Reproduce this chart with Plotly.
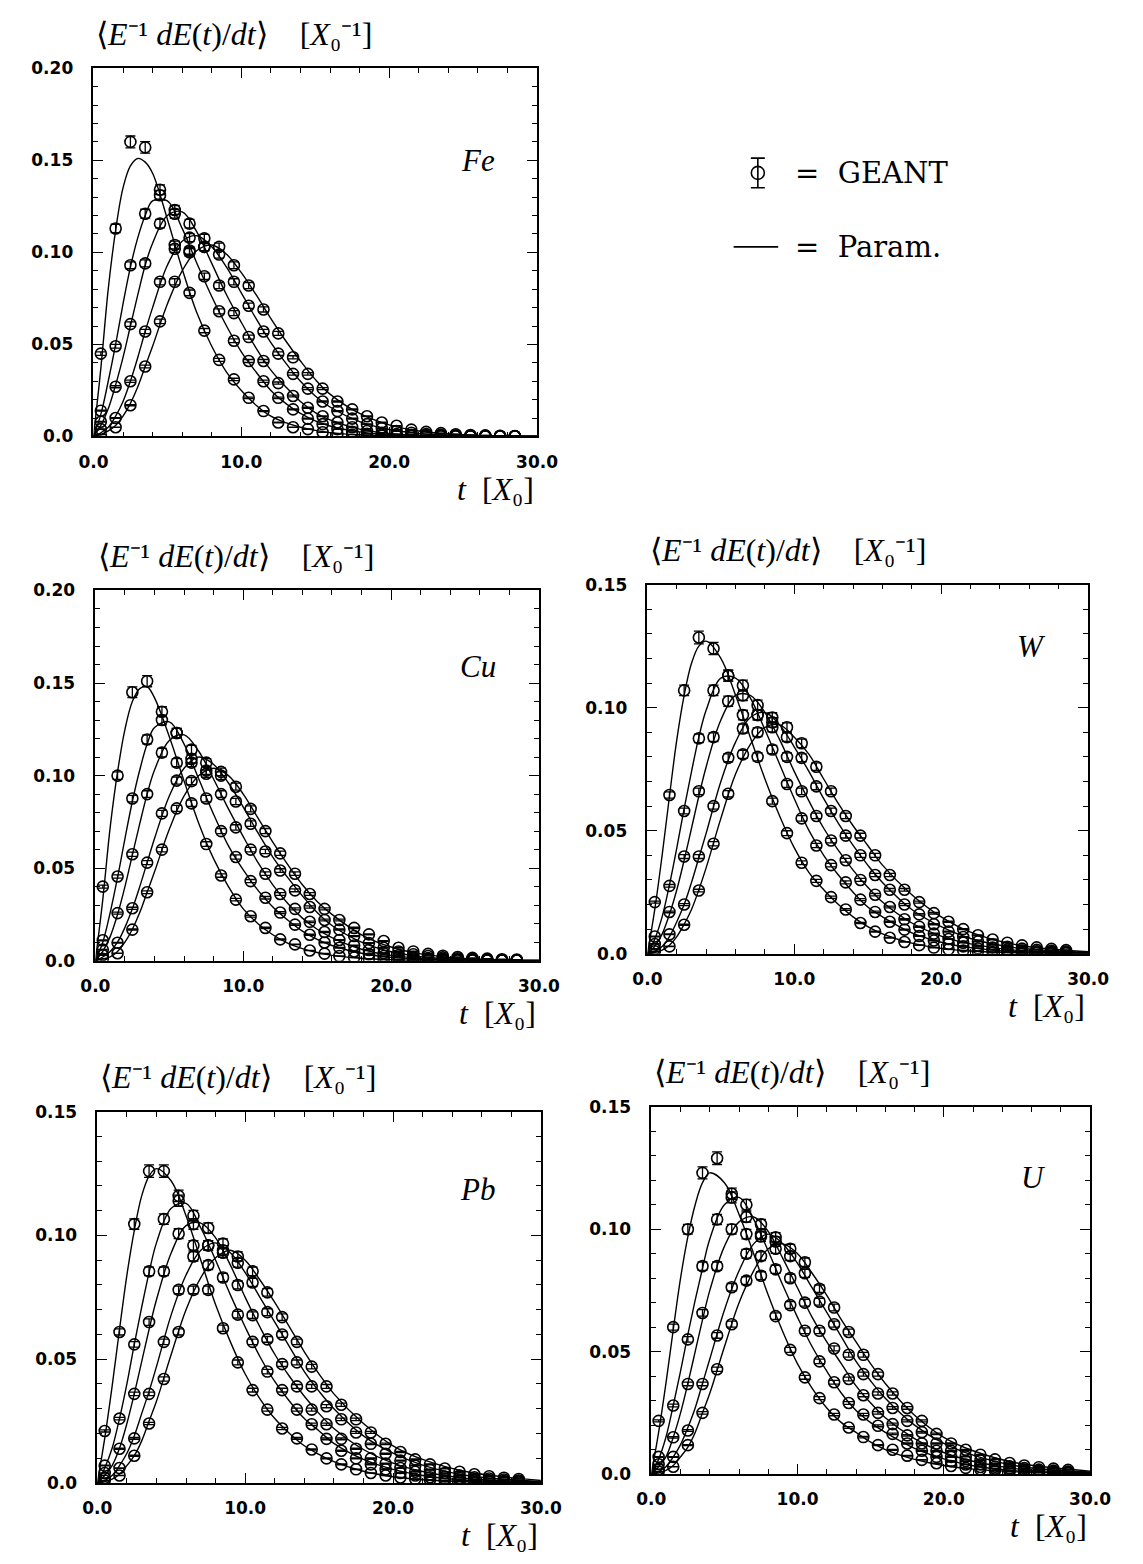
import plotly.graph_objects as go

PAGE_W, PAGE_H = 1143, 1564

# depth bins (centres, in X0) of the GEANT histograms
T_BINS = [0.5, 1.5, 2.5, 3.5, 4.5, 5.5, 6.5, 7.5, 8.5, 9.5, 10.5, 11.5, 12.5, 13.5, 14.5,
          15.5, 16.5, 17.5, 18.5, 19.5, 20.5, 21.5, 22.5, 23.5, 24.5, 25.5, 26.5, 27.5, 28.5]
# depths at which the parameterised profiles are sampled
T_PARAM = [0, 0.5, 1, 1.5, 2, 2.5, 3, 3.5, 4, 5, 6, 7, 8, 9, 10, 11, 12, 13, 14, 15, 16,
           18, 20, 22, 25, 30]

X_TICKS = [0, 10, 20, 30]
X_TICK_LABELS = ["0.0", "10.0", "20.0", "30.0"]
Y_TICKS_A = [0, 0.05, 0.10, 0.15, 0.20]
Y_TICK_LABELS_A = ["0.0", "0.05", "0.10", "0.15", "0.20"]
Y_TICKS_B = [0, 0.05, 0.10, 0.15]
Y_TICK_LABELS_B = ["0.0", "0.05", "0.10", "0.15"]

MATERIALS = ["Fe", "Cu", "W", "Pb", "U"]

# ---------------- Fe ----------------
FE_GEANT_1 = [0.045, 0.113, 0.160, 0.157, 0.134, 0.104, 0.078, 0.0575, 0.0416, 0.031, 0.021, 0.0138, 0.0076, 0.005, 0.004, 0.0023, 0.0015, 0.001, 0.0006, 0.0004, 0.0003, 0.0002, 0.0001, 0.0001, 0.0001, 0.0001, 0.0001, 0.0001, 0.0001]
FE_GEANT_2 = [0.014, 0.049, 0.093, 0.121, 0.131, 0.121, 0.101, 0.087, 0.068, 0.052, 0.041, 0.030, 0.021, 0.0147, 0.0097, 0.0067, 0.004, 0.0025, 0.0015, 0.001, 0.0007, 0.0005, 0.0003, 0.0002, 0.0001, 0.0001, 0.0001, 0.0001, 0.0001]
FE_GEANT_3 = [0.008, 0.027, 0.061, 0.094, 0.1156, 0.123, 0.1156, 0.103, 0.082, 0.067, 0.054, 0.041, 0.029, 0.022, 0.0156, 0.011, 0.0076, 0.005, 0.003, 0.002, 0.0013, 0.0009, 0.0006, 0.0004, 0.0003, 0.0002, 0.0001, 0.0001, 0.0001]
FE_GEANT_4 = [0.004, 0.010, 0.030, 0.057, 0.084, 0.102, 0.108, 0.1076, 0.0988, 0.084, 0.071, 0.057, 0.045, 0.034, 0.026, 0.019, 0.0138, 0.0097, 0.0067, 0.0045, 0.003, 0.002, 0.0013, 0.0009, 0.0006, 0.0004, 0.0003, 0.0002, 0.0001]
FE_GEANT_5 = [0.001, 0.005, 0.017, 0.038, 0.0625, 0.084, 0.100, 0.103, 0.103, 0.093, 0.082, 0.069, 0.056, 0.043, 0.034, 0.026, 0.019, 0.0147, 0.011, 0.0076, 0.0058, 0.0037, 0.0025, 0.0018, 0.0012, 0.0008, 0.0006, 0.0004, 0.0003]
FE_PARAM_1 = [0, 0.037, 0.080, 0.112, 0.135, 0.147, 0.151, 0.149, 0.143, 0.118, 0.091, 0.067, 0.049, 0.035, 0.025, 0.017, 0.011, 0.0075, 0.005, 0.0033, 0.0021, 0.0009, 0.0004, 0.0002, 0.0001, 0.0]
FE_PARAM_2 = [0, 0.012, 0.030, 0.050, 0.072, 0.092, 0.108, 0.120, 0.128, 0.128, 0.113, 0.094, 0.076, 0.060, 0.046, 0.035, 0.025, 0.018, 0.0125, 0.0085, 0.0057, 0.0025, 0.001, 0.0004, 0.0001, 0.0]
FE_PARAM_3 = [0, 0.006, 0.015, 0.028, 0.043, 0.060, 0.077, 0.093, 0.105, 0.120, 0.122, 0.111, 0.094, 0.077, 0.062, 0.048, 0.036, 0.027, 0.019, 0.013, 0.009, 0.004, 0.0017, 0.0007, 0.0002, 0.0]
FE_PARAM_4 = [0, 0.002, 0.005, 0.011, 0.019, 0.030, 0.043, 0.057, 0.070, 0.093, 0.106, 0.109, 0.103, 0.092, 0.078, 0.064, 0.051, 0.040, 0.030, 0.022, 0.016, 0.0081, 0.0038, 0.0017, 0.0005, 0.0001]
FE_PARAM_5 = [0, 0.001, 0.003, 0.006, 0.011, 0.018, 0.027, 0.038, 0.049, 0.072, 0.090, 0.101, 0.104, 0.099, 0.089, 0.077, 0.064, 0.052, 0.041, 0.031, 0.023, 0.0125, 0.0063, 0.003, 0.0009, 0.0001]

# ---------------- Cu ----------------
CU_GEANT_1 = [0.040, 0.100, 0.145, 0.151, 0.1345, 0.107, 0.085, 0.063, 0.046, 0.033, 0.024, 0.0177, 0.0115, 0.0088, 0.0055, 0.0038, 0.0025, 0.0017, 0.0011, 0.0008, 0.0005, 0.0003, 0.0002, 0.0002, 0.0001, 0.0001, 0.0001, 0.0001, 0.0001]
CU_GEANT_2 = [0.011, 0.0455, 0.0876, 0.1195, 0.130, 0.123, 0.107, 0.0876, 0.070, 0.056, 0.043, 0.034, 0.026, 0.0195, 0.014, 0.0098, 0.007, 0.005, 0.0035, 0.0025, 0.0017, 0.0012, 0.0008, 0.0005, 0.0004, 0.0003, 0.0002, 0.0001, 0.0001]
CU_GEANT_3 = [0.006, 0.0257, 0.0575, 0.090, 0.1124, 0.123, 0.114, 0.101, 0.090, 0.072, 0.060, 0.047, 0.036, 0.028, 0.021, 0.0155, 0.0112, 0.0082, 0.0058, 0.0041, 0.0029, 0.002, 0.0014, 0.001, 0.0007, 0.0005, 0.0003, 0.0002, 0.0002]
CU_GEANT_4 = [0.003, 0.0097, 0.0283, 0.053, 0.0796, 0.0973, 0.109, 0.107, 0.100, 0.086, 0.074, 0.059, 0.0487, 0.038, 0.029, 0.022, 0.0168, 0.0133, 0.0095, 0.007, 0.005, 0.0035, 0.0025, 0.0018, 0.0013, 0.0009, 0.0006, 0.0004, 0.0003]
CU_GEANT_5 = [0.001, 0.004, 0.0168, 0.037, 0.060, 0.0823, 0.097, 0.1027, 0.102, 0.094, 0.082, 0.070, 0.058, 0.047, 0.036, 0.028, 0.022, 0.0177, 0.0142, 0.0106, 0.007, 0.005, 0.0037, 0.0027, 0.002, 0.0015, 0.0011, 0.0008, 0.0006]
CU_PARAM_1 = [0, 0.033, 0.072, 0.102, 0.125, 0.140, 0.147, 0.148, 0.142, 0.121, 0.097, 0.074, 0.055, 0.040, 0.028, 0.020, 0.014, 0.0095, 0.0065, 0.0044, 0.0029, 0.0013, 0.0005, 0.0002, 0.0001, 0.0]
CU_PARAM_2 = [0, 0.010, 0.026, 0.045, 0.066, 0.086, 0.103, 0.117, 0.126, 0.129, 0.117, 0.098, 0.079, 0.062, 0.049, 0.038, 0.029, 0.022, 0.016, 0.0115, 0.0082, 0.004, 0.0018, 0.0008, 0.0002, 0.0]
CU_PARAM_3 = [0, 0.005, 0.013, 0.025, 0.040, 0.057, 0.074, 0.090, 0.103, 0.119, 0.122, 0.113, 0.098, 0.082, 0.067, 0.053, 0.041, 0.031, 0.023, 0.017, 0.0125, 0.0062, 0.0029, 0.0013, 0.0004, 0.0]
CU_PARAM_4 = [0, 0.002, 0.005, 0.010, 0.018, 0.028, 0.040, 0.053, 0.066, 0.089, 0.104, 0.110, 0.106, 0.096, 0.083, 0.069, 0.056, 0.045, 0.035, 0.026, 0.019, 0.010, 0.0048, 0.0022, 0.0007, 0.0001]
CU_PARAM_5 = [0, 0.001, 0.002, 0.005, 0.010, 0.017, 0.026, 0.037, 0.048, 0.071, 0.089, 0.100, 0.104, 0.100, 0.090, 0.077, 0.064, 0.052, 0.041, 0.032, 0.025, 0.014, 0.0074, 0.0037, 0.0012, 0.0002]

# ---------------- W ----------------
W_GEANT_1 = [0.021, 0.0645, 0.107, 0.1285, 0.124, 0.113, 0.097, 0.080, 0.062, 0.049, 0.037, 0.0296, 0.023, 0.018, 0.0125, 0.009, 0.0065, 0.0048, 0.0035, 0.0025, 0.0018, 0.0013, 0.001, 0.0007, 0.0005, 0.0004, 0.0003, 0.0002, 0.0002]
W_GEANT_2 = [0.007, 0.0276, 0.058, 0.0875, 0.107, 0.113, 0.109, 0.097, 0.083, 0.069, 0.055, 0.044, 0.036, 0.029, 0.022, 0.017, 0.013, 0.0098, 0.0072, 0.0054, 0.004, 0.003, 0.0022, 0.0016, 0.0012, 0.0009, 0.0006, 0.0005, 0.0003]
W_GEANT_3 = [0.004, 0.017, 0.0395, 0.066, 0.088, 0.1026, 0.105, 0.101, 0.092, 0.080, 0.066, 0.056, 0.046, 0.038, 0.030, 0.024, 0.019, 0.014, 0.011, 0.0082, 0.006, 0.0045, 0.0033, 0.0025, 0.0018, 0.0013, 0.001, 0.0007, 0.0005]
W_GEANT_4 = [0.002, 0.0079, 0.020, 0.0395, 0.060, 0.0796, 0.0915, 0.097, 0.096, 0.088, 0.0796, 0.068, 0.058, 0.048, 0.040, 0.032, 0.026, 0.020, 0.016, 0.012, 0.009, 0.0068, 0.005, 0.0038, 0.0028, 0.0021, 0.0016, 0.0012, 0.0009]
W_GEANT_5 = [0.001, 0.003, 0.0118, 0.0257, 0.0447, 0.065, 0.081, 0.090, 0.094, 0.092, 0.0855, 0.076, 0.066, 0.056, 0.048, 0.040, 0.032, 0.026, 0.021, 0.0165, 0.013, 0.010, 0.0075, 0.0058, 0.0045, 0.0034, 0.0026, 0.002, 0.0015]
W_PARAM_1 = [0, 0.018, 0.040, 0.064, 0.087, 0.105, 0.118, 0.125, 0.127, 0.120, 0.105, 0.088, 0.071, 0.056, 0.043, 0.033, 0.026, 0.020, 0.015, 0.011, 0.0081, 0.0043, 0.0022, 0.0011, 0.0004, 0.0001]
W_PARAM_2 = [0, 0.006, 0.015, 0.028, 0.043, 0.059, 0.074, 0.088, 0.099, 0.112, 0.112, 0.104, 0.091, 0.077, 0.063, 0.050, 0.040, 0.032, 0.025, 0.019, 0.015, 0.0085, 0.0047, 0.0025, 0.0009, 0.0002]
W_PARAM_3 = [0, 0.003, 0.008, 0.016, 0.026, 0.038, 0.051, 0.064, 0.076, 0.095, 0.105, 0.105, 0.098, 0.087, 0.074, 0.062, 0.051, 0.042, 0.034, 0.027, 0.021, 0.0125, 0.0072, 0.004, 0.0015, 0.0003]
W_PARAM_4 = [0, 0.001, 0.003, 0.007, 0.013, 0.020, 0.029, 0.039, 0.049, 0.070, 0.086, 0.096, 0.098, 0.093, 0.084, 0.074, 0.063, 0.053, 0.044, 0.036, 0.029, 0.018, 0.011, 0.0062, 0.0025, 0.0005]
W_PARAM_5 = [0, 0.0005, 0.0015, 0.0035, 0.007, 0.012, 0.018, 0.026, 0.035, 0.055, 0.073, 0.085, 0.092, 0.093, 0.088, 0.081, 0.071, 0.061, 0.052, 0.044, 0.036, 0.024, 0.015, 0.0088, 0.0038, 0.0008]

# ---------------- Pb ----------------
PB_GEANT_1 = [0.021, 0.061, 0.1046, 0.126, 0.126, 0.116, 0.096, 0.078, 0.0625, 0.0487, 0.0375, 0.0296, 0.022, 0.018, 0.0135, 0.0099, 0.0075, 0.0055, 0.004, 0.003, 0.0022, 0.0016, 0.0012, 0.0009, 0.0007, 0.0005, 0.0004, 0.0003, 0.0002]
PB_GEANT_2 = [0.007, 0.026, 0.056, 0.0855, 0.1066, 0.114, 0.108, 0.096, 0.083, 0.068, 0.057, 0.045, 0.0375, 0.0296, 0.0237, 0.0178, 0.013, 0.0099, 0.0075, 0.0055, 0.004, 0.003, 0.0023, 0.0017, 0.0013, 0.001, 0.0007, 0.0005, 0.0004]
PB_GEANT_3 = [0.004, 0.0138, 0.036, 0.065, 0.0855, 0.1007, 0.1046, 0.103, 0.093, 0.080, 0.0678, 0.058, 0.048, 0.039, 0.0296, 0.0237, 0.0178, 0.0138, 0.0099, 0.0078, 0.006, 0.0045, 0.0034, 0.0026, 0.002, 0.0015, 0.0011, 0.0008, 0.0006]
PB_GEANT_4 = [0.002, 0.006, 0.018, 0.036, 0.057, 0.078, 0.0915, 0.096, 0.0967, 0.089, 0.081, 0.069, 0.060, 0.0487, 0.039, 0.031, 0.0257, 0.0204, 0.0158, 0.0118, 0.009, 0.007, 0.0053, 0.004, 0.003, 0.0023, 0.0018, 0.0014, 0.001]
PB_GEANT_5 = [0.001, 0.003, 0.011, 0.024, 0.042, 0.061, 0.078, 0.088, 0.094, 0.0915, 0.0855, 0.077, 0.067, 0.057, 0.047, 0.039, 0.0316, 0.0257, 0.0204, 0.0158, 0.0125, 0.0095, 0.0075, 0.0058, 0.0045, 0.0035, 0.0027, 0.0021, 0.0016]
PB_PARAM_1 = [0, 0.018, 0.039, 0.062, 0.084, 0.102, 0.116, 0.124, 0.127, 0.122, 0.108, 0.090, 0.072, 0.057, 0.044, 0.034, 0.026, 0.020, 0.015, 0.0115, 0.0086, 0.0047, 0.0025, 0.0013, 0.0005, 0.0001]
PB_PARAM_2 = [0, 0.006, 0.014, 0.026, 0.040, 0.056, 0.071, 0.085, 0.097, 0.111, 0.113, 0.103, 0.090, 0.076, 0.063, 0.051, 0.041, 0.033, 0.026, 0.021, 0.016, 0.0095, 0.0055, 0.003, 0.0011, 0.0002]
PB_PARAM_3 = [0, 0.003, 0.007, 0.014, 0.024, 0.036, 0.049, 0.062, 0.074, 0.093, 0.104, 0.105, 0.099, 0.088, 0.075, 0.063, 0.052, 0.043, 0.035, 0.028, 0.022, 0.0135, 0.008, 0.0046, 0.0018, 0.0004]
PB_PARAM_4 = [0, 0.001, 0.003, 0.007, 0.012, 0.019, 0.028, 0.037, 0.047, 0.068, 0.084, 0.094, 0.097, 0.093, 0.085, 0.075, 0.065, 0.055, 0.045, 0.037, 0.030, 0.019, 0.012, 0.0072, 0.003, 0.0006]
PB_PARAM_5 = [0, 0.0005, 0.0015, 0.0035, 0.007, 0.011, 0.017, 0.025, 0.033, 0.052, 0.070, 0.083, 0.091, 0.094, 0.090, 0.082, 0.073, 0.063, 0.053, 0.044, 0.036, 0.024, 0.015, 0.0095, 0.0045, 0.001]

# ---------------- U ----------------
U_GEANT_1 = [0.0217, 0.060, 0.100, 0.123, 0.129, 0.113, 0.098, 0.081, 0.0645, 0.0507, 0.0395, 0.031, 0.0243, 0.019, 0.0151, 0.0118, 0.0099, 0.0075, 0.0058, 0.0044, 0.0033, 0.0025, 0.0019, 0.0014, 0.001, 0.0008, 0.0006, 0.0004, 0.0003]
U_GEANT_2 = [0.007, 0.028, 0.055, 0.0849, 0.104, 0.1145, 0.110, 0.097, 0.0836, 0.069, 0.0585, 0.046, 0.0375, 0.029, 0.0243, 0.0197, 0.0164, 0.0125, 0.0095, 0.007, 0.0052, 0.0039, 0.0029, 0.0022, 0.0016, 0.0012, 0.0009, 0.0007, 0.0005]
U_GEANT_3 = [0.004, 0.015, 0.0368, 0.0658, 0.0849, 0.100, 0.105, 0.102, 0.092, 0.080, 0.070, 0.0585, 0.0513, 0.0388, 0.0322, 0.025, 0.0204, 0.0158, 0.0125, 0.0095, 0.007, 0.0053, 0.004, 0.003, 0.0023, 0.0017, 0.0013, 0.001, 0.0007]
U_GEANT_4 = [0.002, 0.007, 0.0178, 0.0368, 0.0566, 0.0763, 0.090, 0.098, 0.0967, 0.089, 0.082, 0.0704, 0.0612, 0.0487, 0.0408, 0.0329, 0.027, 0.0217, 0.0171, 0.0125, 0.0095, 0.0072, 0.0055, 0.0042, 0.0032, 0.0024, 0.0018, 0.0014, 0.001]
U_GEANT_5 = [0.001, 0.003, 0.0118, 0.025, 0.0428, 0.0612, 0.079, 0.089, 0.095, 0.092, 0.0865, 0.0757, 0.068, 0.058, 0.0487, 0.0408, 0.0329, 0.027, 0.0217, 0.0164, 0.0125, 0.0099, 0.0079, 0.006, 0.0045, 0.0035, 0.0028, 0.0022, 0.0017]
U_PARAM_1 = [0, 0.017, 0.037, 0.059, 0.080, 0.097, 0.110, 0.119, 0.123, 0.119, 0.106, 0.090, 0.073, 0.058, 0.045, 0.035, 0.027, 0.021, 0.017, 0.013, 0.010, 0.006, 0.0035, 0.002, 0.0009, 0.0002]
U_PARAM_2 = [0, 0.006, 0.015, 0.028, 0.042, 0.057, 0.071, 0.084, 0.096, 0.110, 0.113, 0.104, 0.091, 0.077, 0.064, 0.052, 0.042, 0.033, 0.026, 0.021, 0.017, 0.0105, 0.0062, 0.0034, 0.0013, 0.0003]
U_PARAM_3 = [0, 0.003, 0.007, 0.015, 0.025, 0.037, 0.050, 0.063, 0.075, 0.093, 0.103, 0.105, 0.099, 0.088, 0.076, 0.064, 0.054, 0.045, 0.036, 0.029, 0.023, 0.0145, 0.0088, 0.0052, 0.0021, 0.0005]
U_PARAM_4 = [0, 0.001, 0.003, 0.007, 0.012, 0.019, 0.027, 0.037, 0.047, 0.067, 0.083, 0.094, 0.098, 0.094, 0.086, 0.076, 0.066, 0.056, 0.046, 0.038, 0.031, 0.020, 0.0125, 0.0077, 0.0033, 0.0008]
U_PARAM_5 = [0, 0.0005, 0.0015, 0.0035, 0.007, 0.011, 0.017, 0.025, 0.033, 0.052, 0.070, 0.083, 0.092, 0.094, 0.090, 0.082, 0.073, 0.063, 0.054, 0.045, 0.037, 0.024, 0.015, 0.0095, 0.0045, 0.0012]

GEANT = {
    "Fe": [FE_GEANT_1, FE_GEANT_2, FE_GEANT_3, FE_GEANT_4, FE_GEANT_5],
    "Cu": [CU_GEANT_1, CU_GEANT_2, CU_GEANT_3, CU_GEANT_4, CU_GEANT_5],
    "W": [W_GEANT_1, W_GEANT_2, W_GEANT_3, W_GEANT_4, W_GEANT_5],
    "Pb": [PB_GEANT_1, PB_GEANT_2, PB_GEANT_3, PB_GEANT_4, PB_GEANT_5],
    "U": [U_GEANT_1, U_GEANT_2, U_GEANT_3, U_GEANT_4, U_GEANT_5],
}
PARAM = {
    "Fe": [FE_PARAM_1, FE_PARAM_2, FE_PARAM_3, FE_PARAM_4, FE_PARAM_5],
    "Cu": [CU_PARAM_1, CU_PARAM_2, CU_PARAM_3, CU_PARAM_4, CU_PARAM_5],
    "W": [W_PARAM_1, W_PARAM_2, W_PARAM_3, W_PARAM_4, W_PARAM_5],
    "Pb": [PB_PARAM_1, PB_PARAM_2, PB_PARAM_3, PB_PARAM_4, PB_PARAM_5],
    "U": [U_PARAM_1, U_PARAM_2, U_PARAM_3, U_PARAM_4, U_PARAM_5],
}

# page layout: plot frame (left, top, right, bottom) in pixels, y range, label spot
FRAMES = {
    "Fe": (81, 59, 539, 432),
    "Cu": (83, 588, 541, 963),
    "W": (653, 582, 1108, 956),
    "Pb": (85, 1116, 543, 1492),
    "U": (657, 1111, 1110, 1483),
}
Y_TOP = {"Fe": 0.20, "Cu": 0.20, "W": 0.15, "Pb": 0.15, "U": 0.15}
LABEL_POS = {"Fe": (478, 152), "Cu": (478, 665), "W": (1050, 645), "Pb": (478, 1195), "U": (1052, 1183)}

SERIF = "Liberation Serif"
TICK_FONT = dict(family="DejaVu Sans", size=17, color="black", weight="bold")

Y_TITLE = ("\u27e8<i>E</i>\u207b\u00b9\u00a0<i>dE</i>(<i>t</i>)/<i>dt</i>\u27e9"
           "\u00a0\u00a0\u00a0\u00a0[<i>X</i>\u2080\u207b\u00b9]")
X_TITLE = "<i>t</i>\u00a0\u00a0[<i>X</i>\u2080]"


def px_x(x):
    return x / PAGE_W


def px_y(y):
    return 1 - y / PAGE_H


fig = go.Figure()
layout = {}
annotations = []

for i, mat in enumerate(MATERIALS, start=1):
    xa, ya = f"x{i}", f"y{i}"
    left, top, right, bottom = FRAMES[mat]
    ymax = Y_TOP[mat]
    yticks = Y_TICKS_A if ymax > 0.16 else Y_TICKS_B
    ylabels = Y_TICK_LABELS_A if ymax > 0.16 else Y_TICK_LABELS_B

    # parameterised profiles (lines) under the GEANT points
    for prof in PARAM[mat]:
        fig.add_trace(go.Scatter(
            x=T_PARAM, y=prof, mode="lines", xaxis=xa, yaxis=ya,
            line=dict(color="black", width=1.4, shape="spline"),
            showlegend=False, hoverinfo="skip"))
    for prof in GEANT[mat]:
        fig.add_trace(go.Scatter(
            x=T_BINS, y=prof, mode="markers", xaxis=xa, yaxis=ya,
            marker=dict(symbol="circle-open", size=11, color="black",
                        line=dict(color="black", width=1.6)),
            error_y=dict(type="percent", value=2.0, color="black",
                         thickness=1.3, width=5),
            showlegend=False))

    axis_style = dict(
        showline=True, linecolor="black", linewidth=1.6, mirror="ticks",
        ticks="inside", ticklen=10, tickwidth=1.4, tickcolor="black",
        showgrid=False, zeroline=False, tickfont=TICK_FONT, tickmode="array",
    )
    layout[f"xaxis{i}"] = dict(
        axis_style, domain=[px_x(left), px_x(right)], anchor=ya, range=[0, 30],
        tickvals=X_TICKS, ticktext=X_TICK_LABELS, ticklabelstandoff=9,
        minor=dict(ticks="inside", ticklen=5, tickwidth=1.2, tickcolor="black",
                   tickmode="linear", tick0=0, dtick=2, showgrid=False))
    layout[f"yaxis{i}"] = dict(
        axis_style, domain=[px_y(bottom), px_y(top)], anchor=xa, range=[0, ymax],
        tickvals=yticks, ticktext=ylabels, ticklabelstandoff=15,
        minor=dict(ticks="inside", ticklen=5, tickwidth=1.2, tickcolor="black",
                   tickmode="linear", tick0=0, dtick=0.01, showgrid=False))

    annotations.append(dict(
        text=Y_TITLE, xref="paper", yref="paper", x=px_x(left + 1), y=px_y(top - 35),
        xanchor="left", yanchor="middle", showarrow=False,
        font=dict(family=SERIF, size=32, color="black")))
    annotations.append(dict(
        text=X_TITLE, xref="paper", yref="paper", x=px_x(right - 1), y=px_y(bottom + 53),
        xanchor="right", yanchor="middle", showarrow=False,
        font=dict(family=SERIF, size=32, color="black")))
    lx, ly = LABEL_POS[mat]
    annotations.append(dict(
        text=f"<i>{mat}</i>", xref="paper", yref="paper", x=px_x(lx), y=px_y(ly),
        xanchor="center", yanchor="middle", showarrow=False,
        font=dict(family=SERIF, size=31, color="black")))

# key: GEANT point with error bar, and a line for the parameterisation
KEY_BOX = (700, 120, 1000, 280)
layout["xaxis6"] = dict(domain=[px_x(KEY_BOX[0]), px_x(KEY_BOX[2])], range=[KEY_BOX[0], KEY_BOX[2]],
                        visible=False, anchor="y6")
layout["yaxis6"] = dict(domain=[px_y(KEY_BOX[3]), px_y(KEY_BOX[1])], range=[-KEY_BOX[3], -KEY_BOX[1]],
                        visible=False, anchor="x6")
fig.add_trace(go.Scatter(
    x=[767], y=[-165], mode="markers", xaxis="x6", yaxis="y6",
    marker=dict(symbol="circle-open", size=13, color="black", line=dict(color="black", width=1.6)),
    error_y=dict(type="data", array=[15], color="black", thickness=1.6, width=7),
    showlegend=False, hoverinfo="skip"))
fig.add_trace(go.Scatter(
    x=[742, 788], y=[-240, -240], mode="lines", xaxis="x6", yaxis="y6",
    line=dict(color="black", width=1.7), showlegend=False, hoverinfo="skip"))
annotations.append(dict(text="=\u00a0\u00a0GEANT", xref="paper", yref="paper",
                        x=px_x(803), y=px_y(165), xanchor="left", yanchor="middle",
                        showarrow=False, font=dict(family="DejaVu Serif", size=29, color="black")))
annotations.append(dict(text="=\u00a0\u00a0Param.", xref="paper", yref="paper",
                        x=px_x(803), y=px_y(240), xanchor="left", yanchor="middle",
                        showarrow=False, font=dict(family="DejaVu Serif", size=29, color="black")))

fig.update_layout(
    width=PAGE_W, height=PAGE_H, autosize=False,
    margin=dict(l=0, r=0, t=0, b=0),
    paper_bgcolor="white", plot_bgcolor="white",
    showlegend=False, annotations=annotations, **layout)

fig.write_html("out.html", config={"responsive": False, "displayModeBar": False},
               post_script="document.body.style.margin='0';")
